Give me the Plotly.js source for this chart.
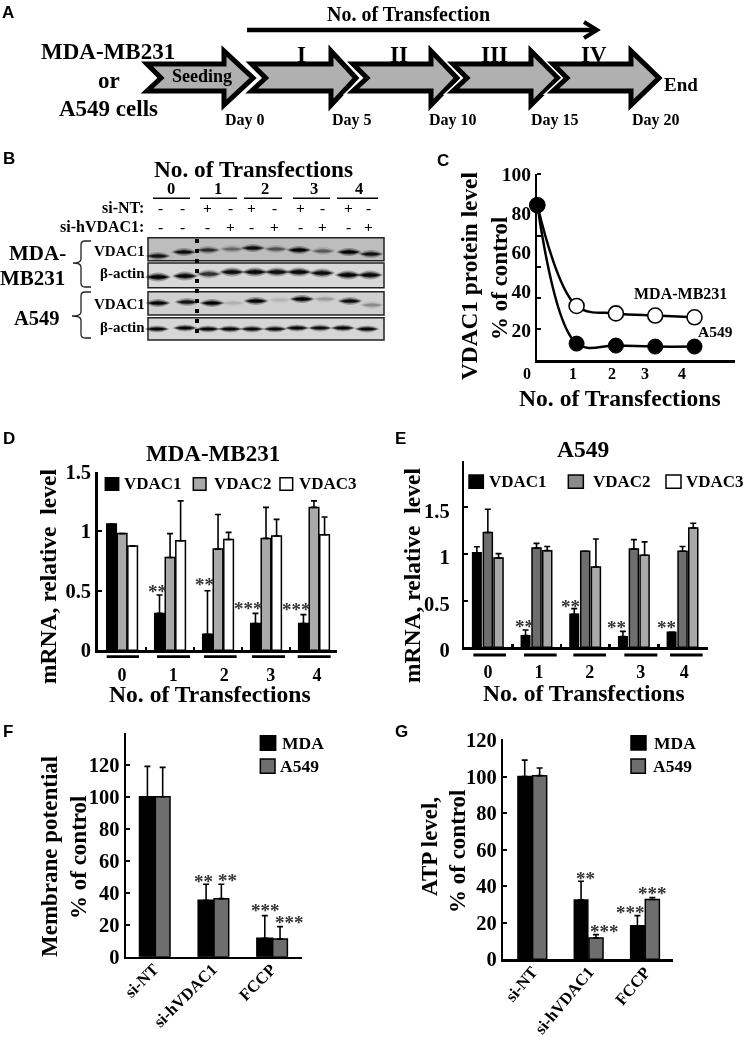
<!DOCTYPE html>
<html><head><meta charset="utf-8">
<script src="https://cdn.plot.ly/plotly-3.0.1.min.js"></script>
<style>html,body{margin:0;padding:0;background:#fff}#c{width:744px;height:1037px;filter:blur(0.45px)}</style>
</head><body><div id="c"></div>
<script>
// ---- Panel C
const transfections = [0,1,2,3,4];
const cMDA  = [84,32.3,28.5,27.4,26.5];
const cA549 = [84,13,12,11.5,11.5];
const cTickLabels = ['0','1','2','3','4'];
// ---- Panel D
const groupLabels = ['0','1','2','3','4'];
const dV1 = [1.06,0.31,0.135,0.225,0.225];
const dV2 = [0.98,0.78,0.85,0.94,1.20];
const dV3 = [0.875,0.92,0.93,0.96,0.97];
const dV1e = [0,0.155,0.365,0.085,0.075];
const dV2e = [0,0.2,0.29,0.26,0.055];
const dV3e = [0,0.335,0.06,0.14,0.15];
// ---- Panel E
const eV1 = [1.014,0.125,0.354,0.114,0.16];
const eV2 = [1.23,1.064,1.03,1.054,1.03];
const eV3 = [0.957,1.036,0.86,0.986,1.28];
const eV1e = [0.064,0.06,0.06,0.057,0];
const eV2e = [0.25,0.05,0,0.1,0.05];
const eV3e = [0.047,0.044,0.3,0.144,0.05];
// ---- Panels F, G
const treatments = ['si-NT','si-hVDAC1','FCCP'];
const fMDA = [100,35.3,11.5];
const fA549 = [100,36.3,11];
const fMDAe = [19,10,14.2];
const fA549e = [18.4,9,7.8];
const gMDA = [100,32.5,18.4];
const gA549 = [100.5,11.7,32.7];
const gMDAe = [9,10.2,5.5];
const gA549e = [4.2,1.8,1.1];
// ---- Panel B band strengths by lane
const blotVdacMDA  = [.8,.85,.6,.3,.85,.4,.98,.35,.98,.8];
const blotActinMDA = [.95,.9,.6,.85,.9,.85,.9,.85,.95,.9];
const blotVdacA549 = [.95,.8,.98,.08,.95,.07,.98,.15,.85,.2];
const blotActinA549= [.9,.9,.9,.9,.85,.85,.9,.85,.9,.9];
const siNT  = ['-','-','+','-','+','-','+','-','+','-'];
const siV1  = ['-','-','-','+','-','+','-','+','-','+'];

const W=744,H=1037;
const SERIF='"Liberation Serif","Times New Roman",serif';
const PX=x=>x/W, PY=y=>1-y/H;
const annotations=[], shapes=[];
function T(text,x,y,size,o={}){
  annotations.push({text,x:PX(x),y:PY(y),xref:'paper',yref:'paper',showarrow:false,
    xanchor:o.xa||'center',yanchor:'middle',textangle:o.rot||0,borderpad:0,
    font:{family:o.family||SERIF,size,color:o.color||'#000',weight:o.weight||700}});
}
function path(d,fill,color,width,extra={}){
  shapes.push(Object.assign({type:'path',xref:'paper',yref:'paper',path:d,fillcolor:fill||'rgba(0,0,0,0)',
    line:{color:color||'rgba(0,0,0,0)',width:width||0}},extra));
}
const pts=a=>'M '+a.map(p=>PX(p[0])+' '+PY(p[1])).join(' L ');
function rect(x0,y0,x1,y1,fill,color,w){
  shapes.push({type:'rect',xref:'paper',yref:'paper',x0:PX(x0),x1:PX(x1),y0:PY(y0),y1:PY(y1),
    fillcolor:fill,line:{color:color||'rgba(0,0,0,0)',width:w||0}});
}
function seg(x0,y0,x1,y1,w,dash){
  shapes.push({type:'line',xref:'paper',yref:'paper',x0:PX(x0),x1:PX(x1),y0:PY(y0),y1:PY(y1),
    line:{color:'#000',width:w,dash:dash||'solid'}});
}
// panel letters
[['A',8,12],['B',9,159],['C',443,160],['D',9,438],['E',400,438],['F',8,731],['G',401,731]].forEach(l=>
  T(l[0],l[1],l[2],17,{family:'"Liberation Sans",Arial,sans-serif'}));

// ---- Panel A
function arrow(x0,hb,tip){
  const a=[[x0+3,64],[hb,64],[hb,51],[tip-4,78],[hb,105],[hb,91],[x0+3,91],[x0+17,78]];
  path(pts(a)+' Z','rgba(0,0,0,0)','#fff',8);
  path(pts(a)+' Z','#b0b0b0','#000',5);
}
[[144,224,257],[248.6,331,360],[350,431,461],[450,531,562],[550,631,663]].forEach(a=>arrow(a[0],a[1],a[2]));
seg(247,30,597,30,4.5);
path(pts([[584,22],[597,30],[584,38]]),null,'#000',4);
T('No. of Transfection',409,14,20);
T('MDA-MB231',108,52,23);T('or',108.6,80,23);T('A549 cells',108,108,23);
T('Seeding',202,76,18);
[['I',301],['II',399],['III',494],['IV',594]].forEach(r=>T(r[0],r[1],55,23));
T('End',681,85,19);
[['Day 0',245],['Day 5',351.5],['Day 10',453.5],['Day 15',554.5],['Day 20',655.5]].forEach(d=>T(d[0],d[1],120,16));

// ---- Panel B
T('No. of Transfections',254,169,23.3);
[[171,153,190],[218,200,237],[265,244,282],[314,293,330],[359,337,378]].forEach((g,i)=>{
  T(groupLabels[i],g[0],188,16.5); seg(g[1],198.3,g[2],198.3,1.5);
});
T('si-NT:',145,207,16,{xa:'right'});T('si-hVDAC1:',145,226,16,{xa:'right'});
const signX=[160,182,208,230,252,274.5,300,322.5,348,368.5];
signX.forEach((x,i)=>{T(siNT[i],x,207,15.5);T(siV1[i],x,226,15.5);});
function blotRow(y0,y1,bg,laneX,laneY,vals,w,h){
  rect(148,y0,384,y1,bg,'#222',1.5);
  vals.forEach((v,i)=>{
    const x=laneX[i],y=laneY[i];
    [[1.15,2.0,.3],[1,1.3,.55],[.88,.8,.98]].forEach(l=>{
      const ww=w*l[0]/2,hh=h*l[1];
      path('M '+PX(x-ww)+' '+PY(y)+' Q '+PX(x)+' '+PY(y-hh)+' '+PX(x+ww)+' '+PY(y)+
           ' Q '+PX(x)+' '+PY(y+hh)+' '+PX(x-ww)+' '+PY(y)+' Z',
           'rgba(0,0,0,'+(l[2]*v).toFixed(3)+')');
    });
  });
}
blotRow(237.7,260.7,'#bdbdbd',[158,184,208,232,253,276,299,323,349,371],[256,252,250,249,248,249,250,251,252,254],blotVdacMDA,22,4);
blotRow(263,287.7,'#d8d8d8',[158,185,209,232,255,277,299,322,348,370],[277,276,274,272,272,272,272,273,275,275],blotActinMDA,23,4.6);
blotRow(291.7,315,'#d0d0d0',[158,187,212,233,256,280,302,325,350,372],[303,302,303,303,301,300,299,299,301,305],blotVdacA549,22,4);
blotRow(317.7,340,'#d6d6d6',[157,185,208,230,252,275,297,320,343,367],[329,328,329,329,329,329,328,328,328,329],blotActinA549,22,3.4);
seg(197,239,197,338,4,'4px,6px');
T('VDAC1',119,251,15);T('β-actin',122,273,15);T('VDAC1',119,304,15);T('β-actin',122,327,15);
T('MDA-',37,253,21);T('MB231',32,278,21);T('A549',37,318,20.5);
function brace(top,mid,bot,tipX){
  const q=(a,b,c,d)=>' Q '+PX(a)+' '+PY(b)+' '+PX(c)+' '+PY(d);
  path('M '+PX(91)+' '+PY(top)+' L '+PX(85)+' '+PY(top)+q(81,top,81,top+4)+
    ' L '+PX(81)+' '+PY(mid-4)+q(81,mid,tipX,mid)+q(81,mid,81,mid+4)+
    ' L '+PX(81)+' '+PY(bot-4)+q(81,bot,85,bot)+' L '+PX(91)+' '+PY(bot),null,'#222',1.3);
}
brace(241,263,287,73);brace(292,316,338,72);

// ---- titles
T('VDAC1 protein level',469,276,23.3,{rot:-90});T('% of control',499,278,23,{rot:-90});
T('No. of Transfections',620,398,23.6);
T('MDA-MB231',680,293,16);T('A549',715,331,15.5);
[526.7,573,611.7,645,682].forEach((x,i)=>T(cTickLabels[i],x,373,16));

T('MDA-MB231',213,453,23);
T('mRNA, relative  level',48,577,23.5,{rot:-90});
T('No. of Transfections',210,694,23.6);
T('A549',583,449,23.5);
T('mRNA, relative  level',412,575,23.5,{rot:-90});
T('No. of Transfections',584,693,23.6);
T('Membrane potential',49,857,23,{rot:-90});T('% of control',78,857,23,{rot:-90});
T('ATP level,',429,847,23,{rot:-90});T('% of control',457,851,23,{rot:-90});

// ---- legends
function swatch(x0,y0,x1,y1,fill,label,tx,size){
  rect(x0,y0,x1,y1,fill,'#000',1.5);
  T(label,tx,(y0+y1)/2,size,{xa:'left'});
}
const lg=(z,o)=>z/3+o;
[[316,356,'#000','VDAC1',370],[580,618,'#a9a9a9','VDAC2',640],[840,878,'#fff','VDAC3',893]].forEach(s=>
  swatch(lg(s[0],0),lg(143,430),lg(s[1],0),lg(181,430),s[2],s[3],lg(s[4],0),17));
[[297,340,'#000','VDAC1',355],[595,640,'#8a8a8a','VDAC2',665],[888,933,'#fff','VDAC3',945]].forEach(s=>
  swatch(lg(s[0],370),lg(135,430),lg(s[1],370),lg(175,430),s[2],s[3],lg(s[4],370),17));
swatch(lg(781,0),lg(47,720),lg(827,0),lg(91,720),'#000','MDA',lg(843,0),17.5);
swatch(lg(781,0),lg(117,720),lg(825,0),lg(160,720),'#6e6e6e','A549',lg(838,0),17.5);
swatch(lg(783,370),lg(47,720),lg(828,370),lg(90,720),'#000','MDA',lg(848,370),17.5);
swatch(lg(783,370),lg(117,720),lg(826,370),lg(160,720),'#6e6e6e','A549',lg(846,370),17.5);

// ---- group underlines
[[320,417],[471,570],[612,710],[756,855],[893,992]].forEach(s=>seg(s[0]/3,656.7,s[1]/3,656.7,2.8));
[[310,408],[462,560],[610,708],[763,862],[900,998]].forEach(s=>seg(370+s[0]/3,655,370+s[1]/3,655,2.8));

// ---- significance stars
function star(t,zx,zy,ox){T(t,zx/3+ox,zy/3+430+4.5,19,{color:'#333'});}
function starF(t,zx,zy,ox){T(t,zx/3+ox,zy/3+720+4.5,19,{color:'#333'});}
[['**',473,472],['**',615,450],['***',745,522],['***',888,526]].forEach(s=>star(s[0],s[1],s[2],0));
[['**',462,577],['**',600,515],['**',738,578],['**',888,580]].forEach(s=>star(s[0],s[1],s[2],370));
[['**',610,470],['**',682,468],['***',796,557],['***',868,593]].forEach(s=>starF(s[0],s[1],s[2],0));
[['**',645,463],['***',702,622],['***',782,565],['***',847,507]].forEach(s=>starF(s[0],s[1],s[2],370));

// ---- traces
function bar(xa,ya,x,y,e,color,offset,width){
  return {type:'bar',xaxis:xa,yaxis:ya,x,y,width,offset,showlegend:false,
    marker:{color,line:{color:'#000',width:1.5}},
    error_y:{type:'data',symmetric:false,array:e,arrayminus:e.map(()=>0),color:'#000',thickness:1.6,width:3,visible:true}};
}
const idx3=[0,1,2];
const traces=[
  {type:'scatter',mode:'lines+markers',xaxis:'x',yaxis:'y',x:transfections,y:cMDA,cliponaxis:false,showlegend:false,
   line:{shape:'spline',smoothing:1,color:'#000',width:2.5},marker:{size:15,color:'#fff',line:{color:'#000',width:1.6}}},
  {type:'scatter',mode:'lines+markers',xaxis:'x',yaxis:'y',x:transfections,y:cA549,cliponaxis:false,showlegend:false,
   line:{shape:'spline',smoothing:1,color:'#000',width:2.5},marker:{size:15,color:'#000',line:{color:'#000',width:1}}},
  bar('x2','y2',transfections,dV1,dV1e,'#000',-0.32,0.2),
  bar('x2','y2',transfections,dV2,dV2e,'#a9a9a9',-0.1,0.2),
  bar('x2','y2',transfections,dV3,dV3e,'#fff',0.12,0.2),
  bar('x3','y3',transfections,eV1,eV1e,'#000',-0.315,0.175),
  bar('x3','y3',transfections,eV2,eV2e,'#6e6e6e',-0.095,0.185),
  bar('x3','y3',transfections,eV3,eV3e,'#a9a9a9',0.125,0.185),
  bar('x4','y4',idx3,fMDA,fMDAe,'#000',-0.27,0.27),
  bar('x4','y4',idx3,fA549,fA549e,'#6e6e6e',0,0.25),
  bar('x5','y5',idx3,gMDA,gMDAe,'#000',-0.25,0.24),
  bar('x5','y5',idx3,gA549,gA549e,'#6e6e6e',0.01,0.25)
];
const F=size=>({family:SERIF,size,color:'#000',weight:700});
const xdom=(a,b)=>[a/W,b/W], ydom=(top,bot)=>[1-bot/H,1-top/H];
function yax(dom,range,vals,size,o={}){
  return Object.assign({domain:dom,range,anchor:o.anchor,showgrid:false,zeroline:false,showline:true,linecolor:'#000',linewidth:2.5,
    tickmode:'array',tickvals:vals,ticktext:vals.map(String),ticks:'inside',ticklen:4,tickwidth:2,tickcolor:'#000',tickfont:F(size)},o.extra||{});
}
function xax(dom,range,o={}){
  return Object.assign({domain:dom,range,anchor:o.anchor,showgrid:false,zeroline:false,showline:true,linecolor:'#000',linewidth:2.5},o.extra||{});
}
const layout={
  width:W,height:H,margin:{l:0,r:0,t:0,b:0},paper_bgcolor:'#fff',plot_bgcolor:'rgba(0,0,0,0)',
  showlegend:false,barmode:'overlay',font:{family:SERIF},annotations,shapes,
  xaxis:xax(xdom(537.3,735),[0,5.03],{anchor:'y',extra:{showticklabels:false,ticks:''}}),
  yaxis:yax(ydom(174,360),[4.6,100],[20,40,60,80,100],19.5,{anchor:'x',extra:{ticklen:0,ticks:'',
     minor:{tickmode:'array',tickvals:[100,84.1,68.2,52.3,36.4,20.5],ticks:'inside',ticklen:4,tickwidth:2,tickcolor:'#000'}}}),
  xaxis2:xax(xdom(97.7,336.7),[-0.508,4.473],{anchor:'y2',extra:{tickmode:'array',tickvals:[0,1.064,2.128,3.1,4.06],ticktext:groupLabels,
     ticks:'outside',ticklen:7,tickcolor:'rgba(0,0,0,0)',tickfont:F(18),
     minor:{tickmode:'array',tickvals:[.5,1.5,2.5,3.5],ticks:'inside',ticklen:3,tickwidth:2.5,tickcolor:'#000'}}}),
  yaxis2:yax(ydom(471.7,650.3),[0,1.5],[0,0.5,1,1.5],20.5,{anchor:'x2'}),
  xaxis3:xax(xdom(464.3,707.7),[-0.486,4.514],{anchor:'y3',extra:{tickmode:'array',tickvals:[0,1.05,2.09,3.14,4.03],ticktext:groupLabels,
     ticks:'outside',ticklen:7,tickcolor:'rgba(0,0,0,0)',tickfont:F(18),
     minor:{tickmode:'array',tickvals:[.5,1.5,2.5,3.5],ticks:'inside',ticklen:3,tickwidth:2.5,tickcolor:'#000'}}}),
  yaxis3:yax(ydom(460.7,647.3),[0,2],[0,0.5,1,1.5],20.5,{anchor:'x3',extra:{ticklabelstandoff:8,ticklabelshift:3}}),
  xaxis4:xax(xdom(126,301.7),[-0.5,2.494],{anchor:'y4',extra:{tickmode:'array',tickvals:[-0.03,0.97,1.97],ticktext:treatments,tickangle:-45,ticks:'',tickfont:F(16.5),ticklabelstandoff:-6}}),
  yaxis4:yax(ydom(733,956.7),[0,139.9],[0,20,40,60,80,100,120],20.5,{anchor:'x4'}),
  xaxis5:xax(xdom(503.3,673.3),[-0.51,2.507],{anchor:'y5',extra:{tickmode:'array',tickvals:[0,1,2],ticktext:treatments,tickangle:-50,ticks:'',tickfont:F(16.5),ticklabelstandoff:-6}}),
  yaxis5:yax(ydom(739.3,959.3),[0,120.4],[0,20,40,60,80,100,120],20.5,{anchor:'x5'})
};
Plotly.newPlot('c',traces,layout,{staticPlot:true,displayModeBar:false});
</script></body></html>
